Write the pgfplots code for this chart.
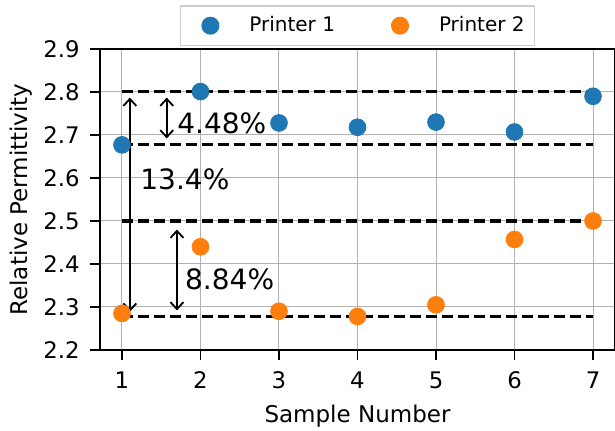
\documentclass[border=0pt]{standalone}
\usepackage{pgfplots}
\pgfplotsset{compat=1.18}
\usepackage{fontspec}
\setmainfont{DejaVu Sans}
\usetikzlibrary{arrows.meta}
\definecolor{tabblue}{HTML}{1F77B4}
\definecolor{taborange}{HTML}{FF7F0E}
\tikzset{dline/.style={black, line width=1.6pt, dash pattern=on 5.5pt off 2.5pt},
  darr/.style={line width=0.9pt, {Straight Barb[length=3.5pt,width=6.5pt]}-{Straight Barb[length=3.5pt,width=6.5pt]}}}
\begin{document}
\begin{tikzpicture}
\begin{axis}[
  scale only axis, width=257.5pt, height=150.5pt,
  xmin=0.72, xmax=7.28, ymin=2.2, ymax=2.9,
  xtick={1,2,3,4,5,6,7},
  ytick={2.2,2.3,2.4,2.5,2.6,2.7,2.8,2.9},
  yticklabel style={xshift=-1.7pt, /pgf/number format/.cd, fixed, fixed zerofill, precision=1},
  xticklabel style={yshift=-2.5pt},
  /pgf/number format/assume math mode=true,
  tick pos=left, tick align=outside, major tick length=5pt,
  grid=major, grid style={color=black!30, line width=0.5pt},
  axis line style={line width=0.7pt},
  tick style={black, line width=0.7pt},
  xlabel={Sample Number}, ylabel={Relative Permittivity},
  tick label style={font=\fontsize{11.4}{13}\selectfont},
  label style={font=\fontsize{11.5}{13}\selectfont},
  ylabel style={at={(axis description cs:-0.1417,0.5)}, anchor=base},
  xlabel style={at={(axis description cs:0.5,-0.2425)}, anchor=base},
  legend style={at={(0.5,1)}, yshift=1.5pt, anchor=south, legend columns=2,
    draw=black!20, line width=0.6pt, font=\fontsize{10}{12}\selectfont,
    inner xsep=5pt, inner ysep=5.3pt, nodes={inner sep=0pt},
    /tikz/every even column/.append style={column sep=22.5pt}},
  legend cell align=left,
  legend image code/.code={\path[draw=none] (-10pt,0pt) -- (19.5pt,0pt); \fill[#1] (0pt,0pt) circle (4.2pt);},
]
\addplot[dline, forget plot] coordinates {(1,2.801) (7,2.801)};
\addplot[dline, forget plot] coordinates {(1,2.677) (7,2.677)};
\addplot[dline, forget plot] coordinates {(1,2.500) (7,2.500)};
\addplot[dline, forget plot] coordinates {(1,2.278) (7,2.278)};
\addplot[only marks, mark=*, mark size=4.2pt, tabblue, mark options={draw=none, fill=tabblue}] coordinates {
(1,2.677) (2,2.801) (3,2.728) (4,2.718) (5,2.730) (6,2.707) (7,2.790)};
\addlegendentry{Printer 1}
\addplot[only marks, mark=*, mark size=4.2pt, taborange, mark options={draw=none, fill=taborange}] coordinates {
(1,2.285) (2,2.440) (3,2.290) (4,2.278) (5,2.305) (6,2.457) (7,2.500)};
\addlegendentry{Printer 2}
\draw[darr] (axis cs:1.10,2.787) -- (axis cs:1.10,2.289);
\draw[darr] (axis cs:1.57,2.787) -- (axis cs:1.57,2.692);
\draw[darr] (axis cs:1.70,2.48) -- (axis cs:1.70,2.292);
\node[anchor=west, inner sep=0pt, font=\fontsize{14}{16}\selectfont] at (axis cs:1.70,2.728) {4.48\%};
\node[anchor=west, inner sep=0pt, font=\fontsize{14}{16}\selectfont] at (axis cs:1.23,2.598) {13.4\%};
\node[anchor=west, inner sep=0pt, font=\fontsize{14}{16}\selectfont] at (axis cs:1.80,2.365) {8.84\%};
\end{axis}
\pgfresetboundingbox
\path ([shift={(-50pt,-40.5pt)}]current axis.south west) rectangle ([shift={(0pt,24.5pt)}]current axis.north east);
\end{tikzpicture}
\end{document}
